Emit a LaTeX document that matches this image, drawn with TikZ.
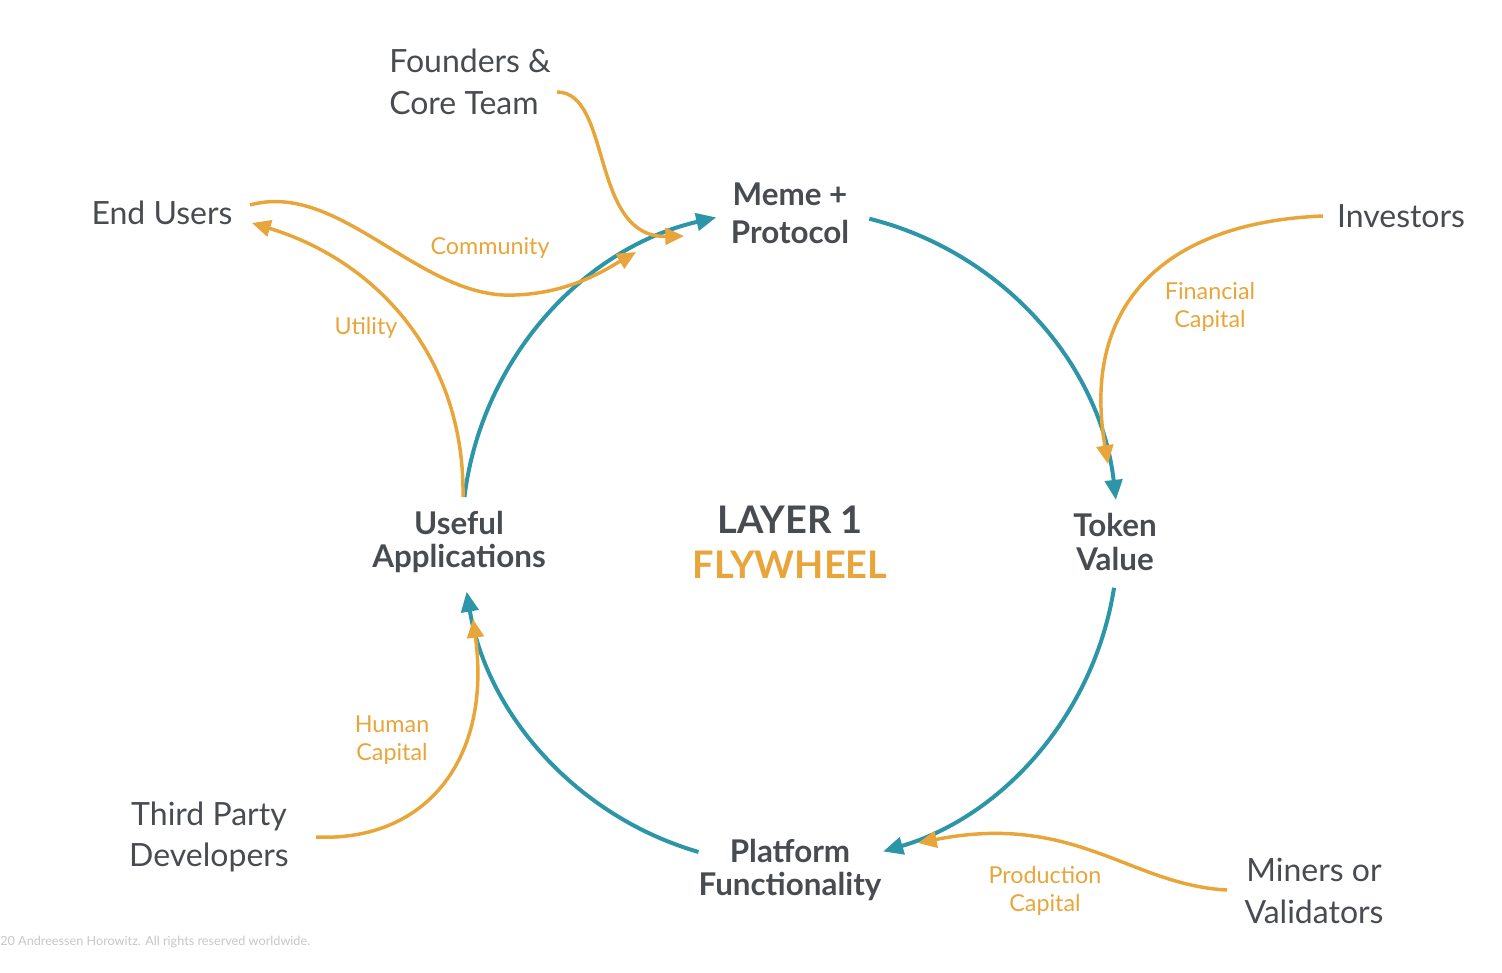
\documentclass[tikz,border=0pt]{standalone}
\usepackage{fontspec}
\setmainfont{Lato}
\usetikzlibrary{arrows.meta}
\definecolor{wheelteal}{RGB}{44,150,168}
\definecolor{feedorange}{RGB}{232,165,58}
\definecolor{labelgray}{RGB}{72,75,80}
\tikzset{
  actor/.style={inner sep=0.75pt,text=labelgray,font=\fontsize{24}{31}\selectfont,align=center},
  stage/.style={inner sep=0.75pt,text=labelgray,font=\bfseries\fontsize{23.5}{25}\selectfont,align=center},
  capital/.style={inner sep=0.75pt,text=feedorange,font=\fontsize{17.5}{20.5}\selectfont,align=center},
  wheelarc/.style={draw=wheelteal,line width=3pt,-{Triangle[length=15pt,width=13pt]}},
  feed/.style={draw=feedorange,line width=2.6pt,-{Triangle[length=14pt,width=12.5pt]}},
}
\begin{document}
\begin{tikzpicture}[x=0.75pt,y=0.75pt,yscale=-1,xscale=1]
\useasboundingbox (0,0) rectangle (1502,972);

%Hub of the wheel
\coordinate (hub) at (790,537);

% Text Node
\node (meme) at (790,213) [stage,font=\bfseries\fontsize{23.5}{28.5}\selectfont] {Meme +\\Protocol};
% Text Node
\node (token) at (1115,542) [stage] {Token\\Value};
% Text Node
\node (platform) at (790,870) [stage] {Platform\\Functionality};
% Text Node
\node (useful) at (459,542) [stage] {Useful\\Applications};
% Text Node
\node (title) at (790,542) [inner sep=0.75pt,align=center,font=\bfseries\fontsize{28.5}{34}\selectfont] {\textcolor{labelgray}{LAYER 1}\\\textcolor{feedorange}{FLYWHEEL}};

% Text Node
\node (founders) at (388,82) [actor,anchor=west,align=left] {Founders \&\\Core Team};
% Text Node
\node (endusers) at (162,213) [actor] {End Users};
% Text Node
\node (investors) at (1401,216) [actor] {Investors};
% Text Node
\node (thirdparty) at (209,837) [actor] {Third Party\\Developers};
% Text Node
\node (miners) at (1314,891) [actor] {Miners or\\Validators};

% Text Node
\node (community) at (490,248) [capital] {Community};
% Text Node
\node (utility) at (366,328) [capital] {Utility};
% Text Node
\node (financial) at (1210,307) [capital] {Financial\\Capital};
% Text Node
\node (human) at (392,740) [capital] {Human\\Capital};
% Text Node
\node (production) at (1045,891) [capital] {Production\\Capital};

%Wheel arcs
\draw [wheelarc] (hub) ++(-76:328) arc [start angle=-76,end angle=-6.5,radius=328];
\draw [wheelarc] (hub) ++(8.9:328) arc [start angle=8.9,end angle=73.5,radius=328];
\draw [wheelarc] (hub) ++(106.2:328) arc [start angle=106.2,end angle=170.4,radius=328];
\draw [wheelarc] (hub) ++(187:328) arc [start angle=187,end angle=257,radius=328];

%Curve Lines
\draw [feed] (557,92) .. controls (612,92) and (590,238) .. (684,236);
\draw [feed] (250,205) .. controls (340,180) and (420,300) .. (515,295) .. controls (570,293) and (605,270) .. (636,252);
\draw [feed] (463,497) .. controls (465,360) and (380,262) .. (252,223);
\draw [feed] (1323,216) .. controls (1170,222) and (1080,300) .. (1108,464);
\draw [feed] (1227,890) .. controls (1130,885) and (1075,812) .. (918,843);
\draw [feed] (316,837) .. controls (425,842) and (492,760) .. (473,619);

% Footer
\node (footer) at (0,942) [anchor=west,inner sep=0pt,text=black!22,font=\fontsize{9.5}{11}\selectfont] {20 Andreessen Horowitz. All rights reserved worldwide.};
\end{tikzpicture}
\end{document}
